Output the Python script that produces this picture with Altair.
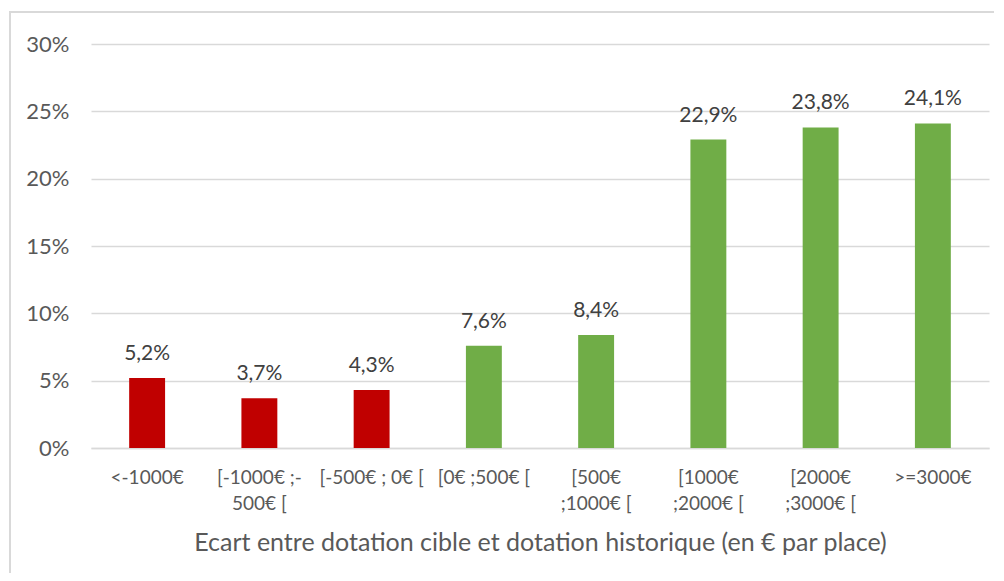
import altair as alt
import pandas as pd

categories = ["<-1000€", "[-1000€ ;-|500€ [", "[-500€ ; 0€ [", "[0€ ;500€ [",
              "[500€|;1000€ [", "[1000€|;2000€ [", "[2000€|;3000€ [", ">=3000€"]
values = [5.2, 3.7, 4.3, 7.6, 8.4, 22.9, 23.8, 24.1]
groups = ["neg", "neg", "neg", "pos", "pos", "pos", "pos", "pos"]
y_ticks = [0, 5, 10, 15, 20, 25, 30]

df = pd.DataFrame({"cat": categories, "val": values, "grp": groups})

FONT = "Lato"
GRAY = "#595959"

x_enc = alt.X("cat:N", sort=None,
              scale=alt.Scale(paddingInner=0.68, paddingOuter=0.34),
              axis=alt.Axis(title="Ecart entre dotation cible et dotation historique (en € par place)",
                            labelAngle=0, labelExpr="split(datum.label, '|')",
                            labelFontSize=19, labelColor=GRAY, labelFont=FONT,
                            labelLineHeight=26, labelPadding=20, labelLimit=200,
                            ticks=False, domain=True, domainColor="#D9D9D9", domainWidth=1.5,
                            titleFontSize=25, titleFont=FONT, titleColor=GRAY,
                            titleFontWeight="normal", titlePadding=17))

y_enc = alt.Y("val:Q",
              scale=alt.Scale(domain=[0, 30], nice=False),
              axis=alt.Axis(title=None, values=y_ticks, labelExpr="datum.value + '%'",
                            labelFontSize=22, labelColor=GRAY, labelFont=FONT,
                            labelPadding=22, ticks=False, domain=False,
                            grid=True, gridColor="#D9D9D9", gridWidth=1.5))

bars = alt.Chart(df).mark_bar().encode(
    x=x_enc, y=y_enc,
    color=alt.Color("grp:N", scale=alt.Scale(domain=["neg", "pos"], range=["#C00000", "#70AD47"]), legend=None),
)

labels = alt.Chart(df).transform_calculate(
    lab="replace(format(datum.val, '.1f'), '.', ',') + '%'"
).mark_text(baseline="bottom", dy=-14, fontSize=21, font=FONT, color="#404040").encode(
    x=alt.X("cat:N", sort=None), y="val:Q", text="lab:N"
)

frame = alt.Chart(df).mark_rect(fill=None, stroke="#D9D9D9", strokeWidth=1.5).encode(
    x=alt.value(-81), x2=alt.value(940), y=alt.value(-32), y2=alt.value(620)
)

chart = alt.layer(frame, bars, labels).properties(
    width=898, height=404,
    autosize=alt.AutoSizeParams(type="none"),
    padding={"left": 83, "top": 36, "right": 5, "bottom": 125},
).configure_view(stroke=None)

chart.save("out.html", embed_options={"renderer": "svg", "actions": False})
